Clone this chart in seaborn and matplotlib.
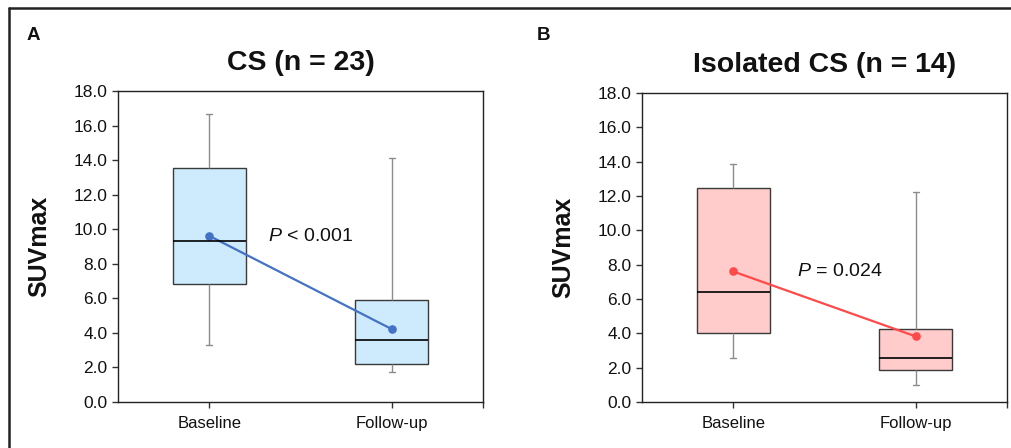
import numpy as np
import pandas as pd
import matplotlib
matplotlib.use("Agg")
import matplotlib.pyplot as plt
from matplotlib.lines import Line2D
import seaborn as sns

# five-number summaries: min, q1, median, q3, max
visits = ["Baseline", "Follow-up"]
cs_baseline = [3.3, 6.85, 9.3, 13.55, 16.7]
cs_followup = [1.75, 2.2, 3.6, 5.9, 14.1]
cs_means = [9.62, 4.22]
iso_baseline = [2.55, 4.0, 6.4, 12.45, 13.85]
iso_followup = [1.0, 1.88, 2.57, 4.25, 12.25]
iso_means = [7.6, 3.82]

titles = ["CS (n = 23)", "Isolated CS (n = 14)"]
p_texts = [r"$\it{P}$ < 0.001", r"$\it{P}$ = 0.024"]
panel_letters = ["A", "B"]

sns.set_style("ticks")
plt.rcParams['font.family'] = ['Liberation Sans', 'DejaVu Sans']
plt.rcParams['mathtext.fontset'] = 'custom'
plt.rcParams['mathtext.it'] = 'Liberation Sans:italic'
plt.rcParams['text.color'] = '#111111'
plt.rcParams['xtick.labelcolor'] = '#111111'
plt.rcParams['ytick.labelcolor'] = '#111111'

fig = plt.figure(figsize=(10.11, 4.48), dpi=100)
ax_a = fig.add_axes([0.1167, 0.1027, 0.361, 0.694])
ax_b = fig.add_axes([0.635, 0.1027, 0.361, 0.690])


def make_long(base, follow):
    return pd.DataFrame({
        "visit": [visits[0]] * len(base) + [visits[1]] * len(follow),
        "SUVmax": base + follow,
    })


def draw_panel(ax, base, follow, means, fill, line, title, ptext, pxy):
    df = make_long(base, follow)
    sns.boxplot(data=df, x="visit", y="SUVmax", order=visits, ax=ax,
                whis=(0, 100), width=0.4, color=fill, saturation=1,
                showfliers=False, linecolor="#3a3a3a", linewidth=1,
                whiskerprops=dict(color="#8c8c8c", linewidth=1),
                capprops=dict(color="#8c8c8c", linewidth=1),
                medianprops=dict(color="black", linewidth=1.2),
                capwidths=0.035)
    sns.pointplot(x=visits, y=means, order=visits, ax=ax, color=line,
                  markers="o", markersize=5, linewidth=1.6)
    ax.set_xlim(-0.5, 1.5)
    ax.set_ylim(0, 18)
    ax.set_yticks(np.arange(0, 18.1, 2))
    ax.set_yticklabels([f"{v:.1f}" for v in np.arange(0, 18.1, 2)])
    ax.set_xticks([0, 1, 1.5])
    ax.set_xticklabels(visits + [""])
    ax.tick_params(axis="both", labelsize=12.5, length=4, width=1, color="#333333")
    ax.tick_params(axis="x", labelsize=12, pad=6)
    for s in ax.spines.values():
        s.set_visible(True)
        s.set_color("#222222")
        s.set_linewidth(1)
    ax.set_xlabel("")
    ax.set_ylabel("SUVmax", fontsize=18, fontweight="bold", labelpad=16,
                  color="#111111")
    ax.set_title(title, fontsize=20.5, fontweight="bold", pad=15, color="#111111")
    ax.text(pxy[0], pxy[1], ptext, fontsize=14, ha="left", va="center")


draw_panel(ax_a, cs_baseline, cs_followup, cs_means, "#cdebfc", "#4472c4",
           titles[0], p_texts[0], (0.32, 9.6))
draw_panel(ax_b, iso_baseline, iso_followup, iso_means, "#ffcbcb", "#ff4a4a",
           titles[1], p_texts[1], (0.35, 7.6))

fig.text(27 / 1011, 1 - 36 / 448, panel_letters[0], fontsize=13.5,
         fontweight="bold", va="center", ha="left")
fig.text(537 / 1011, 1 - 36 / 448, panel_letters[1], fontsize=13.5,
         fontweight="bold", va="center", ha="left")

# outer frame (left and top edges only, the rest is cropped)
fig.add_artist(Line2D([9 / 1011, 9 / 1011], [0, 1 - 8.5 / 448],
                      transform=fig.transFigure, color="#222222", lw=1.8))
fig.add_artist(Line2D([9 / 1011, 1], [1 - 8.5 / 448, 1 - 8.5 / 448],
                      transform=fig.transFigure, color="#222222", lw=1.8))

fig.savefig("out.png", dpi=100)
